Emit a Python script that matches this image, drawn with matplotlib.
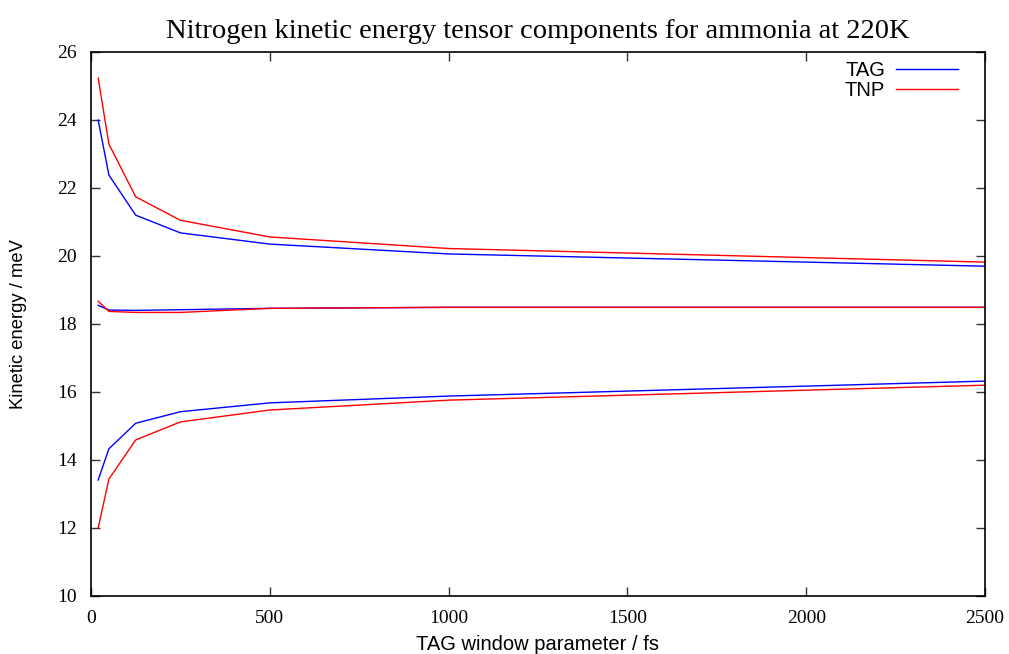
import numpy as np
import matplotlib as mpl
mpl.use('Agg')
import matplotlib.pyplot as plt

# TAG window parameter (fs)
window = [20, 50, 125, 250, 500, 1000, 2500]

# three tensor components per method (meV)
tag_high = [24.00, 22.38, 21.20, 20.68, 20.35, 20.06, 19.70]
tag_mid = [18.55, 18.41, 18.40, 18.42, 18.46, 18.49, 18.49]
tag_low = [13.41, 14.33, 15.08, 15.42, 15.68, 15.88, 16.32]

tnp_high = [25.23, 23.29, 21.74, 21.05, 20.56, 20.22, 19.82]
tnp_mid = [18.67, 18.37, 18.34, 18.34, 18.46, 18.49, 18.49]
tnp_low = [12.00, 13.44, 14.59, 15.12, 15.47, 15.76, 16.20]

fig = plt.figure(figsize=(10.09, 6.54), dpi=100)
ax = fig.add_axes([0.0902, 0.0887, 0.886, 0.8318])

lw = 1.0
ax.plot(window, tag_high, color='#0000ff', lw=lw, label='TAG')
ax.plot(window, tag_mid, color='#0000ff', lw=lw)
ax.plot(window, tag_low, color='#0000ff', lw=lw)
ax.plot(window, tnp_high, color='#ff0000', lw=lw, label='TNP')
ax.plot(window, tnp_mid, color='#ff0000', lw=lw)
ax.plot(window, tnp_low, color='#ff0000', lw=lw)

ax.set_xlim(0, 2500)
ax.set_ylim(10, 26)
ax.set_xticks(np.arange(0, 2501, 500))
ax.set_yticks(np.arange(10, 27, 2))
ax.tick_params(direction='in', length=6.5, width=1, color='#333333',
               top=True, right=True, pad=10)
for lab in ax.get_xticklabels() + ax.get_yticklabels():
    lab.set_family('Liberation Serif')
    lab.set_fontsize(14)
for s in ax.spines.values():
    s.set_linewidth(1.2)

ax.set_xlabel('TAG window parameter / fs', family='Liberation Sans', fontsize=14.5, labelpad=6)
ax.set_ylabel('Kinetic energy / meV', family='Liberation Sans', fontsize=13.2, labelpad=22)
ax.set_title('Nitrogen kinetic energy tensor components for ammonia at 220K',
             family='Liberation Serif', fontsize=20.5, pad=10)

leg = ax.legend(loc='upper right', frameon=False, markerfirst=False,
                handlelength=3.1, prop={'family': 'Liberation Sans', 'size': 14.5},
                labelspacing=0.05, borderaxespad=0.1, borderpad=0.2,
                handletextpad=0.55, bbox_to_anchor=(0.977, 0.995))
for t in leg.get_texts():
    t.set_ha('right')

fig.savefig('out.png', dpi=100)
